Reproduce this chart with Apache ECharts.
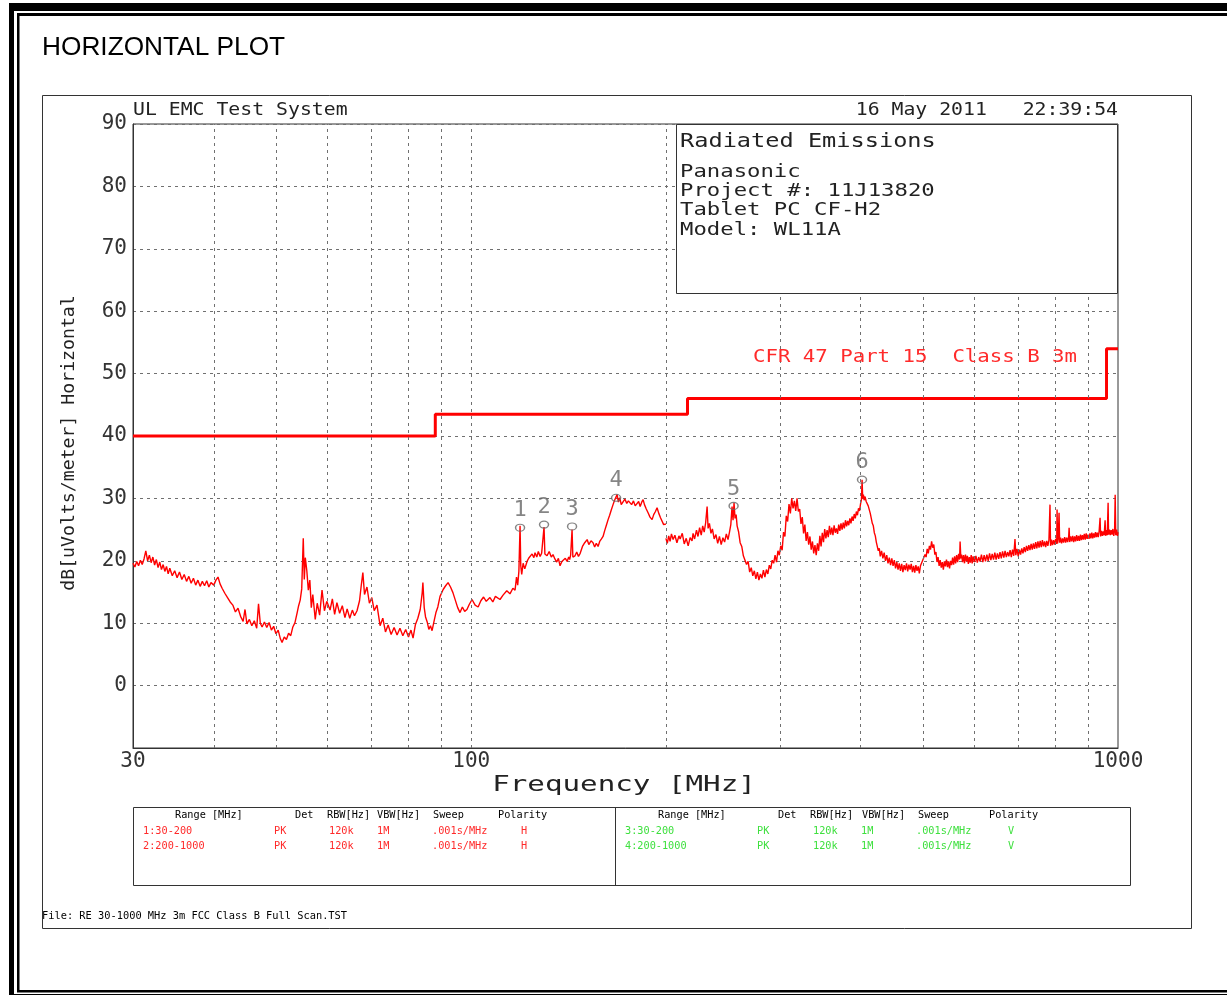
<!DOCTYPE html>
<html lang="en">
<head>
<meta charset="UTF-8">
<title>Horizontal Plot</title>
<script src="https://cdn.jsdelivr.net/npm/echarts@6/dist/echarts.min.js"></script>
<style>
    html, body { margin: 0; padding: 0; background: #fff; }
    #container { width: 1227px; height: 995px; }
</style>
</head>
<body>
<div id="container"></div>
<script type="text/javascript">
    // ---- data ----
    // range 1: 30-200 MHz, [MHz, dBuV/m]
    var range1Scan = [
        [30.0,19.6],[30.2,19.0],[30.4,19.9],[30.6,19.2],[30.8,20.1],[31.0,19.4],[31.2,20.3],[31.4,21.6],[31.6,20.0],[31.8,20.9],
        [32.0,19.7],[32.2,20.6],[32.4,19.3],[32.6,20.2],[32.8,18.9],[33.0,19.8],[33.2,18.6],[33.4,19.4],[33.6,18.3],[33.8,19.1],
        [34.0,17.9],[34.2,18.8],[34.5,17.6],[34.8,18.4],[35.1,17.3],[35.4,18.2],[35.7,17.0],[36.0,17.8],[36.3,16.7],[36.6,17.5],
        [36.9,16.4],[37.2,17.2],[37.5,16.1],[37.8,16.9],[38.1,15.9],[38.4,16.7],[38.7,16.0],[39.0,16.8],[39.3,15.8],[39.6,16.5],
        [40.0,16.1],[40.3,16.9],[40.6,17.4],[40.9,16.3],[41.2,15.6],[41.6,14.8],[42.0,14.1],[42.4,13.4],[42.8,12.9],[43.2,11.8],
        [43.6,12.4],[44.0,11.1],[44.4,10.3],[44.7,12.2],[45.0,9.9],[45.4,10.6],[45.8,9.6],[46.2,10.4],[46.6,9.2],[46.9,13.1],
        [47.2,10.0],[47.5,9.4],[47.9,10.2],[48.3,9.3],[48.7,10.1],[49.1,8.9],[49.5,9.5],[49.9,8.3],[50.3,8.9],[50.7,7.5],
        [51.0,6.9],[51.4,7.8],[51.8,7.4],[52.2,8.4],[52.6,8.0],[53.0,9.4],[53.4,10.1],[53.8,11.6],[54.1,12.8],[54.4,13.7],
        [54.7,15.5],[55.0,23.6],[55.2,17.0],[55.4,20.5],[55.7,18.4],[56.0,15.3],[56.3,16.9],[56.6,12.5],[56.9,14.6],[57.4,10.6],
        [57.8,13.2],[58.3,11.3],[58.8,15.3],[59.3,12.0],[59.8,13.5],[60.5,12.1],[61.0,13.9],[61.5,11.4],[62.0,13.3],[62.6,11.6],
        [63.2,12.8],[63.8,10.9],[64.3,12.3],[64.9,10.8],[65.5,12.1],[66.0,11.2],[66.6,12.0],[67.2,13.6],[67.6,16.0],[68.0,18.1],
        [68.4,14.6],[69.0,15.8],[69.6,13.2],[70.2,14.1],[70.8,12.0],[71.5,12.9],[72.3,9.6],[73.0,10.8],[73.7,8.6],[74.4,9.7],
        [75.2,8.2],[76.0,9.3],[76.8,8.1],[77.6,9.2],[78.4,8.0],[79.2,9.0],[80.0,7.8],[80.7,8.9],[81.3,7.6],[82.0,9.8],
        [82.7,10.8],[83.4,12.2],[84.0,14.9],[84.2,16.5],[84.6,12.5],[85.0,11.0],[85.5,10.2],[86.0,9.0],[86.5,9.6],[87.0,8.8],
        [87.6,10.3],[88.2,11.7],[88.8,12.6],[89.5,14.3],[90.5,15.4],[91.3,16.0],[92.1,16.5],[92.9,15.8],[93.7,14.9],[94.5,13.7],
        [95.3,12.5],[96.1,11.7],[96.9,12.6],[97.7,11.9],[98.5,12.2],[99.3,13.0],[100.3,13.8],[101.4,12.9],[102.5,12.6],[103.5,13.6],
        [104.5,14.2],[105.5,13.5],[106.9,14.1],[108.0,13.4],[109.0,14.3],[110.8,13.8],[112.0,14.5],[113.5,15.2],[114.8,14.7],[116.0,15.6],
        [116.9,15.3],[117.5,17.4],[118.0,16.1],[118.5,18.3],[119.0,25.6],[119.3,19.2],[119.7,17.8],[120.3,19.6],[121.0,18.7],[122.0,19.9],
        [122.7,20.4],[123.3,20.2],[124.2,21.1],[125.0,20.5],[125.5,21.3],[126.3,20.6],[127.0,21.5],[127.8,20.7],[128.5,21.2],[129.3,21.0],
        [129.6,25.4],[130.0,21.1],[131.0,20.8],[132.0,21.5],[133.0,20.6],[133.8,21.0],[134.7,20.3],[135.6,19.8],[136.4,20.4],[137.2,19.2],
        [138.1,19.9],[138.9,19.6],[139.8,20.4],[140.7,19.9],[141.5,20.6],[142.0,20.2],[142.5,21.0],[143.2,25.0],[143.6,20.6],[144.7,20.8],
        [145.6,21.4],[146.5,20.7],[147.4,21.2],[148.6,22.3],[149.8,22.9],[151.1,23.4],[152.0,22.6],[153.2,23.2],[154.3,22.9],[155.2,22.2],
        [156.1,22.8],[157.1,22.3],[158.0,23.1],[159.0,23.5],[159.9,23.9],[160.8,24.8],[161.8,25.7],[162.8,26.6],[163.7,27.3],[164.6,28.1],
        [165.7,29.0],[166.6,29.7],[167.4,30.0],[168.1,30.6],[168.9,29.4],[169.7,30.1],[170.6,29.0],[171.7,29.3],[172.8,29.9],[174.0,29.2],
        [175.0,29.6],[176.0,29.8],[177.0,29.0],[178.2,29.6],[179.3,28.8],[180.5,29.0],[181.5,29.5],[182.5,28.7],[183.5,29.4],[184.4,29.8],
        [185.3,29.0],[186.5,28.3],[187.7,27.7],[189.0,27.0],[190.4,26.6],[191.5,27.4],[192.7,27.9],[193.8,28.5],[195.0,27.6],[196.2,26.9],
        [197.3,26.6],[198.4,25.8],[199.4,25.5],[200.0,25.9]
    ];
    // range 2: 200-1000 MHz
    var range2Scan = [
        [200.0,23.6],[201.0,22.8],[202.0,24.0],[203.0,23.1],[204.0,24.3],[205.2,23.4],[206.5,24.1],[208.0,22.9],[209.5,24.0],[210.4,23.5],
        [212.0,24.4],[213.5,22.7],[215.0,23.6],[216.5,22.4],[218.0,23.7],[219.5,23.2],[220.3,24.4],[221.5,23.5],[223.0,24.9],[224.2,23.9],
        [225.5,25.3],[226.8,24.1],[228.0,25.6],[229.2,24.6],[230.4,26.1],[231.6,28.7],[232.4,25.2],[233.5,26.0],[234.8,24.4],[236.0,25.1],
        [237.5,23.5],[239.0,24.2],[240.5,22.8],[242.0,23.9],[243.5,22.6],[245.0,23.7],[246.5,23.0],[248.0,24.3],[249.5,23.4],[250.8,24.6],
        [252.0,25.8],[253.1,28.7],[254.0,26.5],[254.9,29.3],[255.8,26.8],[256.8,27.4],[257.7,25.6],[259.0,24.7],[260.5,22.9],[262.0,22.3],
        [263.5,20.8],[265.0,21.1],[266.5,19.4],[268.0,19.9],[269.5,18.2],[271.0,18.9],[272.5,17.6],[274.0,18.4],[275.5,17.1],[277.0,18.2],
        [278.5,16.9],[280.0,17.9],[281.5,17.2],[283.0,18.5],[284.5,17.4],[286.0,18.6],[287.5,17.9],[289.0,19.3],[290.5,18.7],[292.0,20.1],
        [293.5,19.6],[295.0,20.9],[296.5,19.8],[298.0,21.6],[299.5,20.9],[301.0,22.4],[302.5,21.7],[304.0,24.6],[305.5,23.9],[307.0,27.2],
        [308.5,26.3],[310.0,29.1],[311.5,27.6],[313.0,30.0],[314.5,28.4],[316.0,29.6],[317.5,28.0],[319.0,30.0],[320.5,27.9],[322.0,28.3],
        [323.5,25.9],[325.0,27.0],[326.5,24.4],[328.0,25.8],[329.5,23.2],[331.0,24.6],[332.5,22.6],[334.0,23.9],[335.5,21.8],[337.0,23.1],
        [338.5,21.2],[340.0,22.5],[341.5,20.9],[343.0,22.8],[344.5,21.6],[346.0,24.0],[347.5,22.3],[349.0,24.5],[350.5,23.0],[352.0,25.1],
        [353.5,23.6],[355.0,24.9],[356.5,23.8],[358.0,25.6],[359.5,24.2],[361.0,25.3],[362.5,24.1],[364.0,25.7],[365.5,24.5],[367.0,25.2],
        [368.5,24.3],[370.0,25.8],[371.5,24.8],[373.0,26.0],[374.5,25.0],[376.0,26.1],[377.5,25.2],[379.0,26.5],[380.5,25.5],[382.0,26.4],
        [383.5,25.7],[385.0,26.8],[386.5,26.0],[388.0,27.1],[389.5,26.4],[391.0,27.5],[392.5,26.8],[394.0,27.9],[395.5,27.3],[397.0,28.4],
        [398.5,28.0],[400.0,29.2],[401.2,29.8],[402.1,33.0],[403.0,30.0],[404.0,30.6],[405.0,29.7],[406.4,30.3],[408.0,29.5],[409.5,29.8],
        [411.0,28.8],[412.5,28.9],[414.0,27.6],[415.5,27.4],[417.0,26.0],[418.5,25.6],[420.0,24.5],[421.5,24.0],[423.0,23.0],[424.5,22.8],
        [426.0,21.6],[427.5,22.0],[429.0,20.7],[431.0,21.6],[433.0,20.4],[435.0,21.3],[437.0,20.0],[439.0,20.9],[441.0,19.6],[443.0,20.5],
        [445.0,19.3],[447.0,20.4],[449.0,19.2],[451.0,20.1],[453.0,18.8],[455.0,19.8],[457.0,18.6],[459.0,19.6],[461.0,18.4],[463.0,19.5],
        [465.0,18.2],[467.0,19.3],[469.0,18.5],[471.0,19.6],[473.0,18.3],[475.0,19.4],[477.0,18.6],[479.0,19.5],[481.0,18.2],[483.0,19.2],
        [485.0,18.1],[487.0,19.3],[489.0,18.4],[491.0,19.1],[493.0,18.0],[495.0,19.2],[497.0,19.0],[499.0,20.1],[501.0,19.8],[503.0,21.0],
        [505.0,20.6],[507.0,21.9],[509.0,21.2],[511.0,22.4],[513.0,21.8],[515.0,23.1],[517.0,22.1],[519.0,22.6],[521.0,21.0],[523.0,21.4],
        [525.0,19.8],[527.0,20.6],[529.0,19.2],[531.0,20.1],[533.0,18.9],[535.0,19.8],[537.0,18.6],[539.0,19.9],[541.0,19.1],[543.0,20.2],
        [545.0,19.0],[547.0,19.9],[549.0,18.8],[551.0,20.0],[553.0,19.3],[555.0,20.5],[557.0,19.4],[559.0,20.7],[561.0,19.6],[563.0,20.9],
        [565.0,19.8],[567.0,21.1],[569.0,20.2],[570.0,23.1],[571.5,20.4],[573.0,21.0],[575.0,19.8],[577.0,20.9],[579.0,19.6],[581.0,21.0],
        [583.0,19.9],[585.0,20.8],[587.0,19.5],[589.0,20.6],[591.0,19.7],[593.0,20.9],[595.0,19.6],[597.0,20.7],[600.0,19.8],[603.0,20.8],
        [606.0,19.7],[609.0,20.6],[612.0,19.9],[615.0,21.0],[618.0,19.8],[621.0,20.9],[624.0,19.9],[627.0,21.0],[630.0,20.0],[633.0,21.2],
        [636.0,20.1],[639.0,21.1],[642.0,20.2],[645.0,21.3],[648.0,20.2],[651.0,21.2],[654.0,20.3],[657.0,21.4],[660.0,20.4],[663.0,21.5],
        [666.0,20.5],[669.0,21.6],[672.0,20.6],[675.0,21.4],[678.0,20.7],[681.0,21.7],[684.0,20.6],[687.0,21.8],[690.0,20.8],[693.0,23.5],
        [695.0,20.9],[698.0,21.9],[701.0,20.7],[704.0,21.8],[707.0,21.0],[710.0,22.0],[713.0,21.2],[716.0,22.2],[719.0,21.4],[722.0,22.4],
        [725.0,21.6],[728.0,22.5],[731.0,21.7],[734.0,22.7],[737.0,21.8],[740.0,22.8],[743.0,21.9],[746.0,23.0],[749.0,22.0],[752.0,23.1],
        [755.0,22.1],[758.0,23.2],[761.0,22.2],[764.0,23.3],[767.0,22.3],[770.0,23.1],[773.0,22.2],[776.0,23.2],[779.0,22.4],[782.0,23.3],
        [785.0,29.0],[786.5,22.4],[789.0,23.4],[792.0,22.5],[795.0,23.3],[798.0,22.6],[801.0,23.5],[804.0,22.7],[805.0,28.2],[806.5,22.8],
        [808.5,23.6],[810.7,27.7],[812.5,22.9],[815.0,23.7],[818.0,22.8],[821.0,23.6],[824.0,22.9],[827.0,23.8],[830.0,22.9],[833.0,23.7],
        [836.0,23.0],[839.0,23.9],[840.3,25.3],[842.0,23.0],[845.0,23.9],[848.0,23.1],[851.0,24.0],[854.0,23.0],[857.0,23.9],[860.0,23.1],
        [863.0,24.1],[866.0,23.2],[869.0,24.0],[872.0,23.2],[875.0,24.2],[878.0,23.3],[881.0,24.1],[884.0,23.4],[887.0,24.3],[890.0,23.4],
        [893.0,24.4],[896.0,23.5],[899.0,24.2],[902.0,23.5],[905.0,24.4],[908.0,23.6],[911.0,24.5],[914.0,23.6],[917.0,24.4],[920.0,23.7],
        [923.0,24.6],[926.0,23.8],[929.0,24.5],[932.0,23.8],[935.0,24.7],[938.2,26.9],[940.0,23.9],[943.0,24.8],[946.0,24.0],[949.0,24.7],
        [952.0,24.1],[955.1,26.5],[957.0,24.0],[960.0,24.9],[962.5,24.1],[965.4,29.3],[967.0,24.2],[970.0,25.0],[973.0,24.1],[976.0,24.9],
        [979.0,24.2],[982.0,25.1],[985.0,24.0],[988.0,24.9],[990.0,30.6],[992.0,24.1],[995.0,25.0],[998.0,24.0],[1000.0,24.6]
    ];
    // CFR 47 Part 15 Class B 3m limit
    var limitFreq  = [30, 88, 88, 216, 216, 960, 960, 1000];
    var limitLevel = [40, 40, 43.5, 43.5, 46, 46, 54, 54];
    // peak markers
    var markerIds   = ['1', '2', '3', '4', '5', '6'];
    var markerFreq  = [119.0, 129.6, 143.2, 167.5, 254.5, 402.0];
    var markerLevel = [25.3, 25.8, 25.5, 30.1, 28.8, 33.0];
    // dotted vertical grid
    var gridFreqs = [40, 50, 60, 70, 80, 90, 100, 200, 300, 400, 500, 600, 700, 800, 900];
    // info box / header texts
    var infoLines = ['Panasonic', 'Project #: 11J13820', 'Tablet PC CF-H2', 'Model: WL11A'];
    var tableHeaders = ['Range [MHz]', 'Det', 'RBW[Hz]', 'VBW[Hz]', 'Sweep', 'Polarity'];
    var hRows = [['1:30-200', 'PK', '120k', '1M', '.001s/MHz', 'H'], ['2:200-1000', 'PK', '120k', '1M', '.001s/MHz', 'H']];
    var vRows = [['3:30-200', 'PK', '120k', '1M', '.001s/MHz', 'V'], ['4:200-1000', 'PK', '120k', '1M', '.001s/MHz', 'V']];

    var mono = 'DejaVu Sans Mono';
    var red = '#ff0000';
    var green = '#3ee03e';

    function ptext(str, x, y, size, sx, color, align, extra) {
        var el = {
            type: 'text', x: x, y: y, scaleX: sx, z: 60, silent: true,
            style: {
                text: str, fontFamily: mono, fontSize: size, fill: color || '#222',
                align: align || 'left', textAlign: align || 'left',
                verticalAlign: 'middle', textVerticalAlign: 'middle'
            }
        };
        if (extra) { for (var k in extra) el[k] = extra[k]; }
        return el;
    }
    function box(x, y, w, h, opt) {
        return {
            type: 'rect', z: (opt && opt.z) || 55, silent: true,
            shape: { x: x, y: y, width: w, height: h },
            style: { fill: (opt && opt.fill) || null, stroke: (opt && opt.stroke) || null, lineWidth: (opt && opt.lw) || 1 }
        };
    }

    var graphics = [
        // page borders
        box(9, 3, 5, 992, { fill: '#000' }),
        box(9, 3, 1218, 8, { fill: '#000' }),
        box(9, 994, 1218, 2, { fill: '#000' }),
        box(17, 13, 2.5, 978, { fill: '#000' }),
        box(17, 13, 1210, 3, { fill: '#000' }),
        box(17, 990, 1210, 2.5, { fill: '#000' }),
        // panel frame
        box(42.5, 95.5, 1149, 833, { stroke: '#333' }),
        // info box
        box(676.5, 124.5, 441, 169, { stroke: '#333', fill: '#fff', z: 50 }),
        // table
        box(133.5, 807.5, 997, 78, { stroke: '#333' }),
        { type: 'line', z: 55, silent: true, shape: { x1: 615.5, y1: 807.5, x2: 615.5, y2: 885.5 }, style: { stroke: '#333', lineWidth: 1 } },
        // texts
        { type: 'text', x: 42, y: 48, scaleX: 1.05, z: 60, silent: true,
          style: { text: 'HORIZONTAL PLOT', fontFamily: 'Liberation Sans', fontSize: 25, fill: '#000',
                   align: 'left', textAlign: 'left', verticalAlign: 'middle', textVerticalAlign: 'middle' } },
        ptext('UL EMC Test System', 133, 110, 18, 1.1, '#222'),
        ptext('16 May 2011   22:39:54', 1118, 110, 18, 1.1, '#222', 'right'),
        ptext('Radiated Emissions', 680, 142, 20, 1.18, '#222'),
        ptext('CFR 47 Part 15  Class B 3m', 753, 357, 18, 1.15, '#ff2a2a'),
        ptext('dB[uVolts/meter] Horizontal', 69, 443, 18, 1.01, '#222', 'center', { rotation: Math.PI / 2 }),
        ptext('Frequency [MHz]', 624, 786, 21, 1.39, '#222', 'center'),
        ptext('File: RE 30-1000 MHz 3m FCC Class B Full Scan.TST', 42, 916, 11, 0.94, '#000')
    ];
    infoLines.forEach(function (s, i) {
        graphics.push(ptext(s, 680, [173, 192, 211, 231][i], 17, 1.31, '#222'));
    });
    var hHeadX = [175, 295, 327, 377, 433, 498], hRowX = [143, 274, 329, 377, 432, 521];
    var vHeadX = [658, 778, 810, 862, 918, 989], vRowX = [625, 757, 813, 861, 916, 1008];
    tableHeaders.forEach(function (s, i) {
        graphics.push(ptext(s, hHeadX[i], 815.5, 11, 0.93, '#000'));
        graphics.push(ptext(s, vHeadX[i], 815.5, 11, 0.93, '#000'));
    });
    [831.5, 846].forEach(function (y, r) {
        hRows[r].forEach(function (s, i) { graphics.push(ptext(s, hRowX[i], y, 11, 0.93, '#ff2a2a')); });
        vRows[r].forEach(function (s, i) { graphics.push(ptext(s, vRowX[i], y, 11, 0.93, green)); });
    });

    var dom = document.getElementById('container');
    var myChart = echarts.init(dom, null, { renderer: 'canvas' });
    var option = {
        animation: false,
        backgroundColor: '#fff',
        grid: {
            left: 133, right: 109, top: 124, bottom: 247,
            show: true, borderColor: '#333', borderWidth: 1,
            containLabel: false, outerBoundsMode: 'none'
        },
        xAxis: {
            type: 'log', logBase: 10, min: 30, max: 1000,
            axisLine: { show: true, onZero: false, lineStyle: { color: '#333', width: 1 } },
            axisTick: { show: false },
            splitLine: { show: false },
            axisLabel: {
                margin: 3, color: '#333', fontFamily: mono, fontSize: 21,
                formatter: function (v) { return String(Math.round(v)); }
            }
        },
        yAxis: {
            type: 'value', min: -10, max: 90, interval: 10,
            axisLine: { show: true, onZero: false, lineStyle: { color: '#333', width: 1 } },
            axisTick: { show: false },
            splitLine: { show: true, lineStyle: { color: '#707070', width: 1, type: [3, 4] } },
            axisLabel: { margin: 6, color: '#333', fontFamily: mono, fontSize: 21, showMinLabel: false }
        },
        series: [
            {
                name: 'Limit', type: 'line', symbol: 'none', z: 3,
                data: limitFreq.map(function (f, i) { return [f, limitLevel[i]]; }),
                lineStyle: { color: red, width: 3 },
                markLine: {
                    silent: true, symbol: 'none', label: { show: false },
                    lineStyle: { color: '#707070', width: 1, type: [3, 4] },
                    data: gridFreqs.map(function (f) { return { xAxis: f }; })
                }
            },
            {
                name: '1:30-200', type: 'line', symbol: 'none', sampling: false, z: 4,
                data: range1Scan,
                lineStyle: { color: red, width: 1.4 }
            },
            {
                name: '2:200-1000', type: 'line', symbol: 'none', sampling: false, z: 4,
                data: range2Scan,
                lineStyle: { color: red, width: 1.4 }
            },
            {
                name: 'Markers', type: 'scatter', z: 6,
                symbol: 'circle', symbolSize: [9, 7],
                itemStyle: { color: 'rgba(0,0,0,0)', borderColor: '#666', borderWidth: 1.3 },
                data: markerFreq.map(function (f, i) { return [f, markerLevel[i], markerIds[i]]; }),
                label: {
                    show: true, position: 'top', distance: 2,
                    fontFamily: mono, fontSize: 22, color: '#666',
                    formatter: function (p) { return p.value[2]; }
                }
            }
        ],
        graphic: { elements: graphics }
    };
    myChart.setOption(option);
    window.addEventListener('resize', myChart.resize);
</script>
</body>
</html>
